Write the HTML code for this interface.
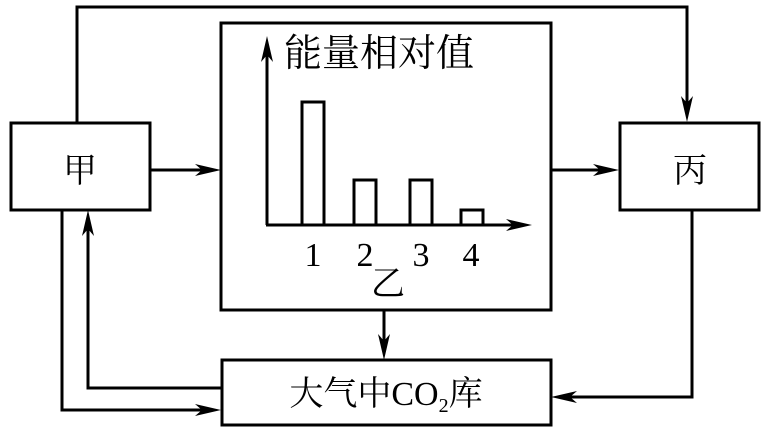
<!DOCTYPE html>
<html><head><meta charset="utf-8"><style>body{margin:0;background:#fff}</style></head><body>
<svg width="768" height="434" viewBox="0 0 768 434" xmlns="http://www.w3.org/2000/svg">
<g fill="none" stroke="#000" stroke-width="3">
<rect x="11" y="123" width="139" height="87"/>
<rect x="221" y="23" width="330" height="287"/>
<rect x="620" y="123" width="139" height="87"/>
<rect x="222" y="360" width="329" height="65"/>
<polyline points="77,123 77,7 687,7 687,110"/>
<line x1="150" y1="170" x2="210" y2="170"/>
<line x1="551" y1="170" x2="608" y2="170"/>
<line x1="384" y1="310" x2="384" y2="350"/>
<polyline points="62,210 62,410 210,410"/>
<polyline points="222,388 88,388 88,222"/>
<polyline points="692,210 692,397 562,397"/>
<polyline points="267,225 267,48"/>
<polyline points="266,225 520,225"/>
<rect x="302" y="102" width="22" height="123"/>
<rect x="354" y="180" width="22" height="45"/>
<rect x="410" y="180" width="22" height="45"/>
<rect x="461" y="210" width="22" height="15"/>
</g>
<g fill="#000">
<path d="M687,122 L681,96 L687,103 L693,96Z"/>
<path d="M221,170 L195,164 L202,170 L195,176Z"/>
<path d="M619,170 L593,164 L600,170 L593,176Z"/>
<path d="M384,360 L378,334 L384,341 L390,334Z"/>
<path d="M221,410 L195,404 L202,410 L195,416Z"/>
<path d="M88,210 L82,236 L88,229 L94,236Z"/>
<path d="M551,397 L577,391 L570,397 L577,403Z"/>
<path d="M267,36 L261,62 L267,55 L273,62Z"/>
<path d="M532,225 L506,219 L513,225 L506,231Z"/>
</g>
<g font-family="Liberation Serif, Noto Serif CJK SC, serif" font-size="34" text-anchor="middle" fill="#000">
<text x="80" y="182">甲</text>
<text x="690" y="182">丙</text>
<text x="379" y="66" font-size="38">能量相对值</text>
<text x="313" y="266">1</text><text x="365" y="266">2</text><text x="421" y="266">3</text><text x="471" y="266">4</text>
<text x="388" y="295">乙</text>
<text x="386" y="405">大气中CO<tspan font-size="20" dy="7">2</tspan><tspan dy="-7">库</tspan></text>
</g>
</svg>
</body></html>
